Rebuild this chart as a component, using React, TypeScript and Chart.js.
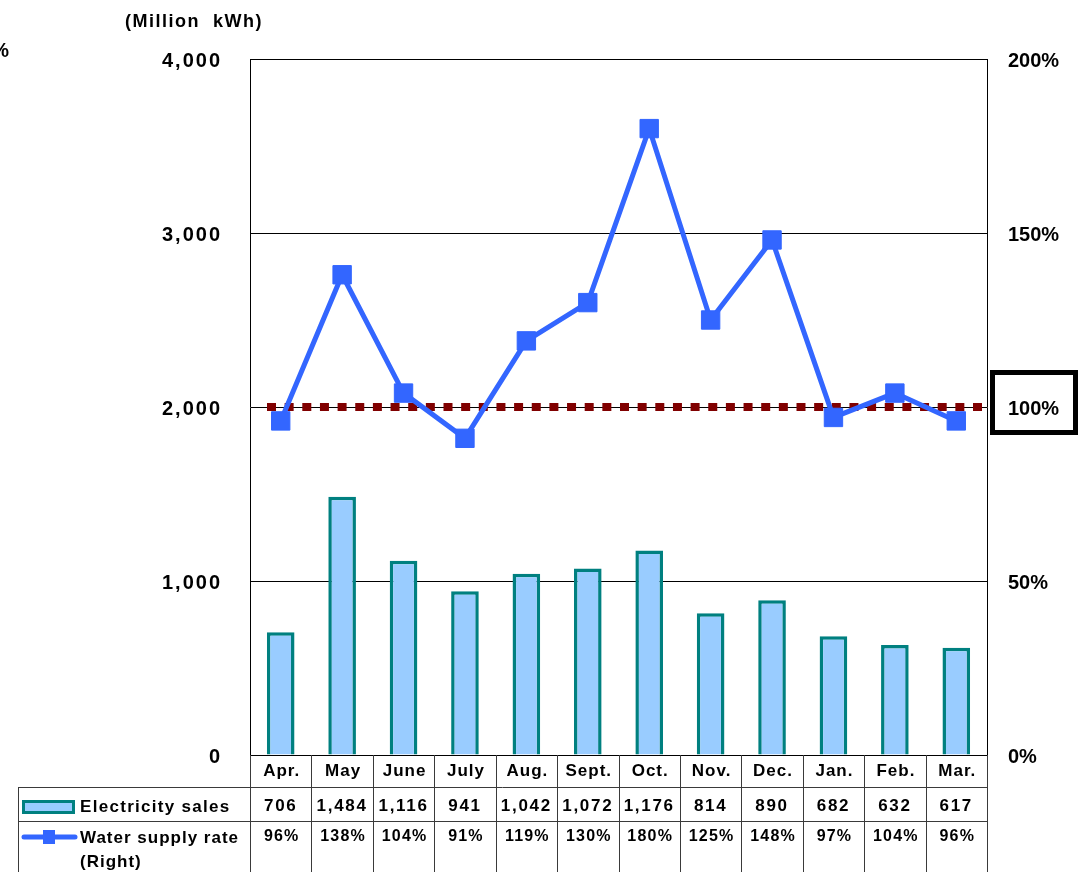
import React, { useEffect, useRef } from 'react';
import { Chart, registerables } from 'chart.js';

Chart.register(...registerables);

const months = ['Apr.', 'May', 'June', 'July', 'Aug.', 'Sept.', 'Oct.', 'Nov.', 'Dec.', 'Jan.', 'Feb.', 'Mar.'];
const electricitySales = [706, 1484, 1116, 941, 1042, 1072, 1176, 814, 890, 682, 632, 617];
const waterSupplyRate = [96, 138, 104, 91, 119, 130, 180, 125, 148, 97, 104, 96];
const leftTickValues = [0, 1000, 2000, 3000, 4000];
const rightTickValues = [0, 50, 100, 150, 200];
const baselineRate = 100;
const unitLabel = '(Million  kWh)';
const salesLabel = 'Electricity sales';
const rateLabel = ['Water supply rate', '(Right)'];

const FONT = '"Liberation Sans", Arial, sans-serif';
const fmt = (v: number) => v.toLocaleString('en-US');

const overlayPlugin = {
  id: 'overlay',
  beforeDatasetsDraw(chart: any) {
    const ctx = chart.ctx;
    const { left, right } = chart.chartArea;
    const y = chart.scales.y1.getPixelForValue(baselineRate);
    ctx.save();
    ctx.strokeStyle = '#800000';
    ctx.lineWidth = 8;
    ctx.setLineDash([9, 8.65]);
    ctx.beginPath();
    ctx.moveTo(left + 17, y);
    ctx.lineTo(right - 2, y);
    ctx.stroke();
    ctx.restore();
  },
  afterDraw(chart: any) {
    const ctx = chart.ctx;
    const { left, right, bottom } = chart.chartArea;
    const ys = chart.scales.y;
    const y1 = chart.scales.y1;
    const xs = chart.scales.x;
    ctx.save();
    ctx.fillStyle = '#000';
    ctx.textBaseline = 'middle';

    // left axis labels
    (ctx as any).letterSpacing = '2px';
    ctx.font = `bold 20px ${FONT}`;
    ctx.textAlign = 'right';
    leftTickValues.forEach((v) => {
      ctx.fillText(fmt(v), left - 28, ys.getPixelForValue(v) + 2.5);
    });
    // right axis labels
    ctx.textAlign = 'left';
    (ctx as any).letterSpacing = '0px';
    rightTickValues.forEach((v) => {
      ctx.fillText(`${v}%`, right + 21, y1.getPixelForValue(v) + 2.5);
    });
    // box around 100%
    const yb = y1.getPixelForValue(baselineRate);
    ctx.lineWidth = 5;
    ctx.strokeStyle = '#000';
    ctx.strokeRect(right + 5.5, yb - 34.5, 83, 60);

    // stray % at top-left
    ctx.textAlign = 'right';
    ctx.fillText('%', 9, 51);

    // unit label
    (ctx as any).letterSpacing = '1.5px';
    ctx.font = `bold 18px ${FONT}`;
    ctx.textAlign = 'left';
    ctx.fillText(unitLabel, 125, 22);

    // data table
    const n = months.length;
    const colW = (right - left) / n;
    const r1 = bottom + 32; // 787
    const r2 = bottom + 66; // 821
    const bot = chart.height;
    ctx.strokeStyle = '#3a3a3a';
    ctx.lineWidth = 1;
    ctx.beginPath();
    for (let i = 0; i <= n; i++) {
      const x = Math.round(xs.getPixelForValue(0) - colW / 2 + i * colW) + 0.5;
      ctx.moveTo(x, bottom);
      ctx.lineTo(x, bot);
    }
    ctx.moveTo(18, r1 + 0.5);
    ctx.lineTo(right, r1 + 0.5);
    ctx.moveTo(19, r2 + 0.5);
    ctx.lineTo(right, r2 + 0.5);
    ctx.moveTo(18.5, r1);
    ctx.lineTo(18.5, bot);
    ctx.stroke();

    ctx.font = `bold 17px ${FONT}`;
    ctx.textAlign = 'center';
    months.forEach((m, i) => {
      const cx = xs.getPixelForValue(i) + 1;
      (ctx as any).letterSpacing = '1px';
      ctx.fillText(m, cx, bottom + 16);
      (ctx as any).letterSpacing = '1.7px';
      ctx.fillText(fmt(electricitySales[i]), cx - 1, r1 + 19);
    });
    ctx.font = `bold 16px ${FONT}`;
    (ctx as any).letterSpacing = '1.2px';
    waterSupplyRate.forEach((v, i) => {
      const cx = xs.getPixelForValue(i) + 1;
      ctx.fillText(`${v}%`, cx, r2 + 16);
    });

    // legend entries
    ctx.textAlign = 'left';
    ctx.font = `bold 17px ${FONT}`;
    (ctx as any).letterSpacing = '1.3px';
    ctx.fillText(salesLabel, 80, r1 + 20);
    (ctx as any).letterSpacing = '1px';
    ctx.fillText(rateLabel[0], 80, r2 + 17);
    ctx.fillText(rateLabel[1], 80, r2 + 41);

    ctx.fillStyle = '#99CCFF';
    ctx.fillRect(23, 801, 51, 12);
    ctx.strokeStyle = '#008080';
    ctx.lineWidth = 3;
    ctx.strokeRect(23.5, 801.5, 50, 11);

    ctx.strokeStyle = '#3366FF';
    ctx.lineWidth = 5;
    ctx.lineCap = 'round';
    ctx.beginPath();
    ctx.moveTo(24, r2 + 16);
    ctx.lineTo(75, r2 + 16);
    ctx.stroke();
    ctx.fillStyle = '#3366FF';
    ctx.fillRect(43, r2 + 9, 12, 14);

    ctx.restore();
  },
};

export default function App() {
  const canvasRef = useRef<HTMLCanvasElement>(null);

  useEffect(() => {
    const canvas = canvasRef.current;
    if (!canvas) return;
    const chart = new Chart(canvas, {
      type: 'bar',
      data: {
        labels: months,
        datasets: [
          {
            type: 'line',
            label: 'Water supply rate (Right)',
            data: waterSupplyRate,
            yAxisID: 'y1',
            borderColor: '#3366FF',
            backgroundColor: '#3366FF',
            borderWidth: 5,
            pointStyle: 'rect',
            pointRadius: 13,
            pointBackgroundColor: '#3366FF',
            pointBorderColor: '#3366FF',
            pointBorderWidth: 1,
            tension: 0,
            order: 0,
          } as any,
          {
            type: 'bar',
            label: 'Electricity sales',
            data: electricitySales,
            yAxisID: 'y',
            backgroundColor: '#99CCFF',
            borderColor: '#008080',
            borderWidth: 3.5,
            barPercentage: 0.45,
            categoryPercentage: 1,
            order: 1,
          },
        ],
      },
      options: {
        animation: false,
        responsive: true,
        maintainAspectRatio: false,
        layout: { padding: { left: 0, right: 0, top: 59, bottom: 117 } },
        plugins: { legend: { display: false }, tooltip: { enabled: false } },
        scales: {
          x: { display: false, offset: true },
          y: {
            position: 'left',
            min: 0,
            max: 4000,
            ticks: { display: false, stepSize: 1000 },
            grid: { color: '#000', lineWidth: 1, drawTicks: false },
            border: { display: true, color: '#000', width: 1 },
            afterFit: (s: any) => {
              s.width = 250;
            },
          },
          y1: {
            position: 'right',
            min: 0,
            max: 200,
            ticks: { display: false, stepSize: 50 },
            grid: { drawOnChartArea: false, drawTicks: false },
            border: { display: true, color: '#000', width: 1 },
            afterFit: (s: any) => {
              s.width = 101;
            },
          },
        },
      },
      plugins: [overlayPlugin],
    });
    return () => chart.destroy();
  }, []);

  return (
    <div style={{ position: 'fixed', left: 0, top: 0, width: 1088, height: 872, background: '#fff' }}>
      <canvas ref={canvasRef} />
    </div>
  );
}
